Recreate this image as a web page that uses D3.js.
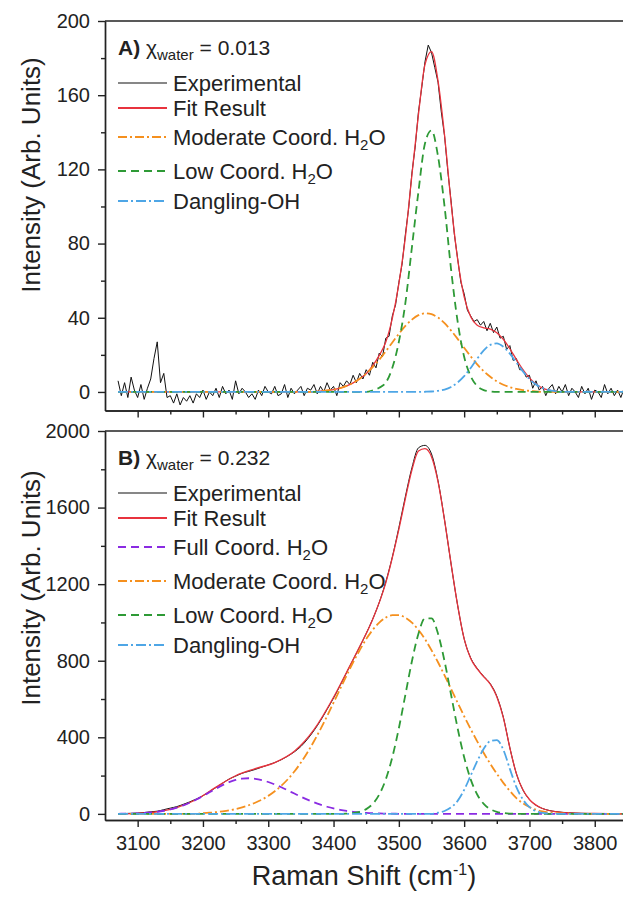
<!DOCTYPE html>
<html>
<head>
<meta charset="utf-8">
<script src="https://cdn.jsdelivr.net/npm/d3@7"></script>
<style>
  body { margin: 0; background: #fff; }
  svg { display: block; font-family: "Liberation Sans", Arial, sans-serif; }
  .axis text { font-size: 20px; fill: #222; }
  .axis path, .axis line { stroke: #222; stroke-width: 1.4; }
</style>
</head>
<body>
<svg id="chart"></svg>
<script>
// ---- values ----

// panel A, experimental spectrum, one value every 5 cm-1 from 3070 to 3850
let shiftA = d3.range(3070, 3851, 5)
let expA = [
  6, -2, 5, -3, 8, 1, -3, 4, -4, 2,
  7, 18, 27, 5, 10, -3, -2, -6, -1, -7,
  -3, -5, -2, -6, -1, -3, 1, -4, 0, -2,
  2, -3, 3, -1, 1, -4, 6, -1, 2, 0,
  -3, -1, -4, 1, -2, 3, 0, -1, 3, -2,
  -1, 4, -3, 2, -1, 1, 3, -2, 2, 1,
  4, -1, 3, 0, 5, 1, 3, -2, 5, 3,
  6, 4, 9, 5, 10, 7, 12, 9, 16, 13,
  21, 19, 29, 30, 41, 47, 59, 69, 85, 99,
  118, 132, 151, 164, 178, 187, 183, 175, 167, 151,
  138, 119, 103, 85, 72, 59, 53, 44, 41, 38,
  39, 36, 38, 33, 37, 32, 35, 29, 30, 23,
  25, 17, 18, 12, 12, 8, 9, 2, 6, 1,
  3, -2, 2, 4, -1, 3, 0, 4, -2, 2,
  0, -3, 3, -1, 2, -4, 1, 0, -3, 4,
  -1, 2, -2, 1, -3, 2, 0
]
let fitA = [
  [3070, 0], [3370, 0], [3380, 0.5], [3390, 0.8], [3400, 1.3], [3410, 2.1], [3420, 3.3],
  [3430, 4.9], [3440, 7.1], [3450, 9.9], [3460, 14.2], [3470, 19.7], [3480, 26.9],
  [3490, 39.7], [3500, 58.3], [3510, 83.6], [3520, 117], [3530, 149.5], [3540, 176.5],
  [3550, 183.5], [3560, 167.7], [3570, 138.4], [3580, 101.8], [3590, 71.7], [3600, 51.3],
  [3610, 40.6], [3620, 36], [3630, 34.6], [3640, 33.9], [3650, 31.9], [3660, 28.3],
  [3670, 23.3], [3680, 17.5], [3690, 12.1], [3700, 7.6], [3710, 4.3], [3720, 2.1],
  [3730, 1], [3740, 0.4], [3750, 0], [3850, 0]
]
let moderateA = [
  [3070, 0], [3370, 0], [3380, 0.5], [3390, 0.8], [3400, 1.3], [3410, 2.1], [3420, 3.3],
  [3430, 4.9], [3440, 7.1], [3450, 9.9], [3460, 13.4], [3470, 17.4], [3480, 21.9],
  [3490, 26.7], [3500, 31.3], [3510, 35.6], [3520, 39], [3530, 41.4], [3540, 42.4],
  [3550, 41.9], [3560, 40.1], [3570, 37.1], [3580, 33.1], [3590, 28.6], [3600, 23.8],
  [3610, 19.2], [3620, 14.9], [3630, 11.2], [3640, 8.2], [3650, 5.7], [3660, 3.9],
  [3670, 2.6], [3680, 1.6], [3690, 1], [3700, 0.6], [3710, 0.3], [3720, 0], [3850, 0]
]
let lowA = [
  [3070, 0], [3450, 0], [3460, 0.8], [3470, 2.3], [3480, 5], [3490, 13], [3500, 27],
  [3510, 48], [3520, 78], [3530, 108], [3540, 134], [3550, 141], [3560, 127],
  [3570, 100], [3580, 66], [3590, 38], [3600, 19], [3610, 8.5], [3620, 3.2],
  [3630, 1], [3640, 0.3], [3650, 0], [3850, 0]
]
let danglingA = [
  [3070, 0], [3530, 0], [3540, 0.1], [3550, 0.24], [3560, 0.6], [3570, 1.3], [3580, 2.7],
  [3590, 5.1], [3600, 8.5], [3610, 12.9], [3620, 17.9], [3630, 22.4], [3640, 25.4],
  [3650, 26.2], [3660, 24.4], [3670, 20.7], [3680, 15.9], [3690, 11.1], [3700, 7],
  [3710, 4], [3720, 2.1], [3730, 1], [3740, 0.4], [3750, 0], [3850, 0]
]

// panel B, experimental spectrum, one value every 10 cm-1 from 3070 to 3850
let shiftB = d3.range(3070, 3851, 10)
let expB = [
  0, 2, 3, 4, 7, 11, 14, 22, 30, 38,
  50, 63, 78, 95, 116, 138, 160, 182, 197, 212,
  222, 232, 244, 256, 268, 283, 302, 324, 352, 390,
  435, 487, 545, 605, 670, 738, 805, 872, 942, 1018,
  1105, 1212, 1342, 1495, 1658, 1808, 1912, 1925, 1880, 1740,
  1535, 1305, 1090, 915, 815, 760, 718, 680, 615, 505,
  345, 210, 125, 75, 45, 28, 18, 12, 8, 6,
  4, 3, 2, 2, 1, 1, 1, 0, 0
]
let fitB = [
  [3070, 0.5], [3100, 3], [3130, 11], [3160, 33], [3190, 75], [3220, 140], [3250, 199],
  [3280, 236], [3310, 268], [3340, 327], [3370, 440], [3400, 609], [3420, 740],
  [3440, 874], [3460, 1017], [3480, 1207], [3500, 1486], [3510, 1647], [3520, 1796],
  [3530, 1895], [3540, 1908], [3550, 1866], [3560, 1735], [3570, 1534], [3580, 1306],
  [3590, 1090], [3600, 914], [3610, 812], [3620, 757], [3630, 716], [3640, 678],
  [3650, 612], [3660, 503], [3670, 345], [3680, 210], [3690, 126], [3700, 75],
  [3720, 28], [3740, 12], [3770, 4], [3800, 2], [3850, 0]
]
let fullB = [
  [3070, 0.5], [3080, 1], [3090, 1.7], [3100, 2.8], [3110, 4.6], [3120, 7.2], [3130, 11],
  [3140, 16.3], [3150, 23.5], [3160, 32.8], [3170, 44.6], [3180, 58.9], [3190, 75.3],
  [3200, 93.5], [3210, 112.8], [3220, 132], [3230, 150], [3240, 165.5], [3250, 177.2],
  [3260, 184.2], [3270, 186], [3280, 183.1], [3290, 176.5], [3300, 166.5], [3310, 153.7],
  [3320, 138.9], [3330, 122.7], [3340, 106.2], [3350, 89.9], [3360, 74.5], [3370, 60.4],
  [3380, 47.9], [3390, 37.2], [3400, 28.3], [3410, 21], [3420, 15.3], [3430, 10.9],
  [3440, 7.6], [3450, 5.2], [3460, 3.5], [3470, 2.3], [3480, 1.4], [3490, 0.9],
  [3500, 0.5], [3510, 0], [3850, 0]
]
let moderateB = [
  [3070, 0], [3190, 0], [3200, 4], [3210, 6], [3220, 9], [3230, 13], [3240, 18], [3250, 25],
  [3260, 34], [3270, 45], [3280, 58], [3290, 74], [3300, 94], [3310, 118], [3320, 147],
  [3330, 181], [3340, 221], [3350, 268], [3360, 321], [3370, 379], [3380, 443],
  [3390, 510], [3400, 581], [3410, 652], [3420, 723], [3430, 792], [3440, 855],
  [3450, 913], [3460, 961], [3470, 999], [3480, 1025], [3490, 1038], [3500, 1038],
  [3510, 1025], [3520, 999], [3530, 961], [3540, 913], [3550, 855], [3560, 792],
  [3570, 723], [3580, 652], [3590, 581], [3600, 510], [3610, 443], [3620, 379],
  [3630, 318], [3640, 262], [3650, 210], [3660, 162], [3670, 120], [3680, 82],
  [3690, 55], [3700, 36], [3710, 22], [3720, 13], [3730, 7], [3740, 4], [3750, 2],
  [3760, 1], [3770, 0], [3850, 0]
]
let lowB = [
  [3070, 0], [3410, 0], [3420, 1.6], [3430, 4.4], [3440, 10.9], [3450, 24.9], [3460, 52.2],
  [3470, 101.2], [3480, 180.4], [3490, 296], [3500, 447.3], [3510, 622.3], [3520, 797.3],
  [3530, 940.5], [3540, 1021.4], [3550, 1021.4], [3560, 940.5], [3570, 797.3],
  [3580, 622.3], [3590, 447.3], [3600, 296], [3610, 180.4], [3620, 101.2], [3630, 52.2],
  [3640, 24.9], [3650, 10.9], [3660, 4.4], [3670, 1.6], [3680, 0.5], [3690, 0], [3850, 0]
]
let danglingB = [
  [3070, 0], [3550, 0], [3560, 6], [3570, 15], [3580, 34], [3590, 68], [3600, 125],
  [3610, 200], [3620, 275], [3630, 340], [3640, 380], [3650, 385], [3660, 335],
  [3670, 235], [3680, 140], [3690, 75], [3700, 35], [3710, 14], [3720, 5], [3730, 1.5],
  [3740, 0], [3850, 0]
]

let xMajor = [3100, 3200, 3300, 3400, 3500, 3600, 3700, 3800]
let xMinor = [3150, 3250, 3350, 3450, 3550, 3650, 3750]
let yMajorA = [0, 40, 80, 120, 160, 200]
let yMinorA = [20, 60, 100, 140, 180]
let yMajorB = [0, 400, 800, 1200, 1600, 2000]
let yMinorB = [200, 600, 1000, 1400, 1800]

// ---- layout ----
let width = 623
let height = 897
let left = 105
let right = 627.4

let svg = d3.select('#chart').attr('width', width).attr('height', height)

let xScale = d3.scaleLinear().domain([3050, 3850]).range([left, right])

let styles = {
  exp: { color: '#111', width: 1, dash: null },
  fit: { color: '#e8333d', width: 1.3, dash: null },
  full: { color: '#8a2be2', width: 1.8, dash: '8,5' },
  moderate: { color: '#f5901e', width: 1.8, dash: '9,3,2,3' },
  low: { color: '#2e9a36', width: 1.8, dash: '8,5' },
  dangling: { color: '#4ea6e6', width: 1.8, dash: '10,3,2,3' }
}

let line = (yScale, curve) => d3.line()
  .x(d => xScale(d[0]))
  .y(d => yScale(d[1]))
  .curve(curve)

let drawPanel = (p) => {
  let yScale = d3.scaleLinear().domain(p.yDomain).range([p.bottom, p.top])
  let g = svg.append('g')

  let clipId = 'clip' + p.name
  svg.append('clipPath').attr('id', clipId)
    .append('rect')
    .attr('x', left).attr('y', p.top)
    .attr('width', right - left).attr('height', p.bottom - p.top)

  let plot = g.append('g').attr('clip-path', 'url(#' + clipId + ')')
  p.series.forEach(s => {
    let st = styles[s.key]
    let curve = (s.key === 'exp' && p.name === 'A') ? d3.curveLinear : d3.curveMonotoneX
    plot.append('path')
      .datum(s.data)
      .attr('fill', 'none')
      .attr('stroke', st.color)
      .attr('stroke-width', st.width)
      .attr('stroke-dasharray', st.dash)
      .attr('stroke-linejoin', 'round')
      .attr('d', line(yScale, curve))
  })

  // left axis, major + minor ticks
  g.append('g').attr('class', 'axis')
    .attr('transform', 'translate(' + left + ',0)')
    .call(d3.axisLeft(yScale).tickValues(p.yMajor).tickSize(7).tickSizeOuter(0)
      .tickPadding(8).tickFormat(d3.format('d')))
  g.append('g').attr('class', 'axis')
    .attr('transform', 'translate(' + left + ',0)')
    .call(d3.axisLeft(yScale).tickValues(p.yMinor).tickSize(4).tickSizeOuter(0).tickFormat(''))

  // bottom axis
  let xAxis = d3.axisBottom(xScale).tickValues(xMajor).tickSize(7).tickSizeOuter(0)
    .tickPadding(9).tickFormat(d3.format('d'))
  if (!p.xLabels) xAxis.tickFormat('')
  g.append('g').attr('class', 'axis')
    .attr('transform', 'translate(0,' + p.bottom + ')')
    .call(xAxis)
  g.append('g').attr('class', 'axis')
    .attr('transform', 'translate(0,' + p.bottom + ')')
    .call(d3.axisBottom(xScale).tickValues(xMinor).tickSize(4).tickSizeOuter(0).tickFormat(''))

  // top frame
  g.append('line')
    .attr('x1', left).attr('x2', right)
    .attr('y1', p.top).attr('y2', p.top)
    .attr('stroke', '#222').attr('stroke-width', 1.4)

  // y title
  g.append('text')
    .attr('transform', 'translate(' + 40 + ',' + p.titleY + ') rotate(-90)')
    .attr('text-anchor', 'middle')
    .attr('font-size', 26)
    .attr('fill', '#222')
    .text('Intensity (Arb. Units)')

  // legend heading
  let head = g.append('text')
    .attr('x', 118).attr('y', p.top + 34)
    .attr('font-size', 21).attr('fill', '#222')
  head.append('tspan').attr('font-weight', 'bold').text(p.name + ')')
  head.append('tspan').text(' \u03c7')
  head.append('tspan').attr('dy', 5).attr('font-size', 15).text('water')
  head.append('tspan').attr('dy', -5).text(' = ' + p.fraction)

  // legend entries
  let ly = p.top + 62
  p.series.forEach((s, i) => {
    if (i > 0) {
      ly += 25 + (s.sub ? 4 : 0) + (p.series[i - 1].sub ? 5 : 0)
    }
    let st = styles[s.key]
    g.append('line')
      .attr('x1', 118).attr('x2', 167)
      .attr('y1', ly).attr('y2', ly)
      .attr('stroke', st.color)
      .attr('stroke-width', st.width === 1 ? 1.2 : 1.8)
      .attr('stroke-dasharray', st.dash)
    let t = g.append('text')
      .attr('x', 173).attr('y', ly + 8)
      .attr('font-size', 22).attr('fill', '#222')
    if (s.sub) {
      t.append('tspan').text(s.label + ' H')
      t.append('tspan').attr('dy', 5).attr('font-size', 15).text('2')
      t.append('tspan').attr('dy', -5).text('O')
    } else {
      t.text(s.label)
    }
  })
}

drawPanel({
  name: 'A',
  fraction: '0.013',
  top: 21,
  bottom: 410.5,
  yDomain: [-10, 200],
  yMajor: yMajorA,
  yMinor: yMinorA,
  xLabels: false,
  titleY: 175,
  series: [
    { key: 'exp', label: 'Experimental', data: shiftA.map((x, i) => [x, expA[i]]) },
    { key: 'fit', label: 'Fit Result', data: fitA },
    { key: 'moderate', label: 'Moderate Coord.', sub: true, data: moderateA },
    { key: 'low', label: 'Low Coord.', sub: true, data: lowA },
    { key: 'dangling', label: 'Dangling-OH', data: danglingA }
  ]
})

drawPanel({
  name: 'B',
  fraction: '0.232',
  top: 431,
  bottom: 820,
  yDomain: [-32, 2000],
  yMajor: yMajorB,
  yMinor: yMinorB,
  xLabels: true,
  titleY: 588,
  series: [
    { key: 'exp', label: 'Experimental', data: shiftB.map((x, i) => [x, expB[i]]) },
    { key: 'fit', label: 'Fit Result', data: fitB },
    { key: 'full', label: 'Full Coord.', sub: true, data: fullB },
    { key: 'moderate', label: 'Moderate Coord.', sub: true, data: moderateB },
    { key: 'low', label: 'Low Coord.', sub: true, data: lowB },
    { key: 'dangling', label: 'Dangling-OH', data: danglingB }
  ]
})

// x title
let xTitle = svg.append('text')
  .attr('x', 364).attr('y', 885)
  .attr('text-anchor', 'middle')
  .attr('font-size', 27).attr('fill', '#222')
xTitle.append('tspan').text('Raman Shift (cm')
xTitle.append('tspan').attr('dy', -10).attr('font-size', 16).text('-1')
xTitle.append('tspan').attr('dy', 10).text(')')
</script>
</body>
</html>
